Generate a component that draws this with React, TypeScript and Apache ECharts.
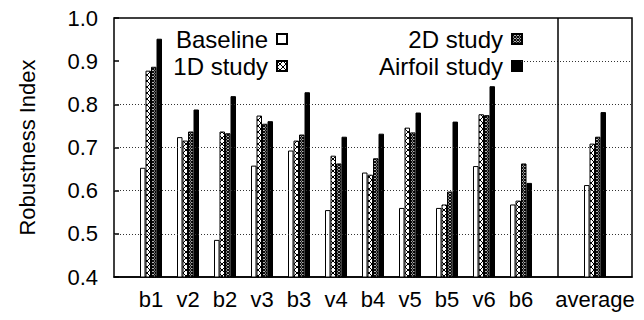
import React, { useEffect, useRef } from "react";
import * as echarts from "echarts";

const categories = ["", "b1", "v2", "b2", "v3", "b3", "v4", "b4", "v5", "b5", "v6", "b6", "", "average", ""];
const baseline = [null, 0.653, 0.724, 0.486, 0.658, 0.693, 0.555, 0.642, 0.56, 0.56, 0.657, 0.568, null, 0.613, null];
const study1D = [null, 0.878, 0.716, 0.737, 0.774, 0.716, 0.681, 0.637, 0.746, 0.568, 0.777, 0.577, null, 0.709, null];
const study2D = [null, 0.887, 0.737, 0.733, 0.755, 0.73, 0.663, 0.675, 0.735, 0.598, 0.775, 0.663, null, 0.725, null];
const airfoil = [null, 0.952, 0.788, 0.819, 0.761, 0.828, 0.725, 0.732, 0.781, 0.76, 0.842, 0.618, null, 0.782, null];
const gridValues = [0.5, 0.6, 0.7, 0.8];
const partialGridValue = 0.9;
const seriesNames = ["Baseline", "1D study", "2D study", "Airfoil study"];

const FONT = "Liberation Sans, Arial, Helvetica, sans-serif";

function makePattern(size: number, lw: number) {
  const c = document.createElement("canvas");
  c.width = size;
  c.height = size;
  const ctx = c.getContext("2d")!;
  ctx.fillStyle = "#fff";
  ctx.fillRect(0, 0, size, size);
  ctx.strokeStyle = "#000";
  ctx.lineWidth = lw;
  ctx.beginPath();
  ctx.moveTo(0, 0);
  ctx.lineTo(size, size);
  ctx.moveTo(size, 0);
  ctx.lineTo(0, size);
  ctx.stroke();
  return c;
}

export default function App() {
  const ref = useRef<HTMLDivElement>(null);
  useEffect(() => {
    if (!ref.current) return;
    const chart = echarts.init(ref.current, null, { renderer: "svg" });
    const p1 = makePattern(6, 1);
    const p2 = makePattern(3, 1.1);
    const barBase = {
      type: "bar" as const,
      barWidth: 5.5,
      barGap: "0%",
      z: 3,
      itemStyle: { borderColor: "#000", borderWidth: 1 },
    };
    const dotted = { color: "#333", type: [1, 2], width: 1 };
    const legendCommon = {
      orient: "vertical",
      align: "right",
      icon: "rect",
      top: 27,
      padding: 0,
      itemGap: 3,
      itemWidth: 10,
      itemHeight: 10,
      selectedMode: false,
      textStyle: { fontSize: 24, fontFamily: FONT, color: "#000", padding: [0, 4, 0, 0] },
    };
    chart.setOption({
      animation: false,
      textStyle: { fontFamily: FONT, color: "#000" },
      grid: {
        left: 114,
        right: 12,
        top: 18,
        bottom: 43,
        show: true,
        borderColor: "#000",
        borderWidth: 1.5,
      },
      legend: [
        { ...legendCommon, data: seriesNames.slice(0, 2), right: 356 },
        { ...legendCommon, data: seriesNames.slice(2, 4), right: 121 },
      ],
      xAxis: {
        type: "category",
        data: categories,
        boundaryGap: false,
        axisLine: { lineStyle: { color: "#000", width: 1.5 } },
        axisTick: { show: false },
        axisLabel: { fontSize: 22, color: "#000", margin: 11, interval: 0, fontFamily: FONT },
        splitLine: { show: false },
      },
      yAxis: {
        type: "value",
        min: 0.4,
        max: 1.0,
        interval: 0.1,
        name: "Robustness Index",
        nameLocation: "middle",
        nameGap: 76,
        nameTextStyle: { fontSize: 22, color: "#000", fontFamily: FONT },
        axisLine: { lineStyle: { color: "#000", width: 1.5 } },
        axisTick: { show: true, inside: true, length: 5, lineStyle: { color: "#000", width: 1.5 } },
        axisLabel: {
          fontSize: 22,
          color: "#000",
          margin: 16,
          fontFamily: FONT,
          formatter: (v: number) => v.toFixed(1),
        },
        splitLine: { show: false },
      },
      series: [
        {
          type: "line",
          data: [],
          z: 1,
          silent: true,
          markLine: {
            silent: true,
            symbol: "none",
            label: { show: false },
            lineStyle: dotted,
            data: [
              ...gridValues.map((v) => ({ yAxis: v, lineStyle: dotted })),
              [
                { coord: [11, partialGridValue], lineStyle: dotted },
                { coord: [14, partialGridValue] },
              ],
            ],
          },
        },
        {
          type: "line",
          data: [],
          z: 5,
          silent: true,
          markLine: {
            silent: true,
            symbol: "none",
            label: { show: false },
            lineStyle: { color: "#000", type: "solid", width: 1.5 },
            data: [{ xAxis: 12 }],
          },
        },
        { ...barBase, name: seriesNames[0], data: baseline, itemStyle: { ...barBase.itemStyle, color: "#fff" } },
        {
          ...barBase,
          name: seriesNames[1],
          data: study1D,
          itemStyle: { ...barBase.itemStyle, color: { image: p1, repeat: "repeat" } },
        },
        {
          ...barBase,
          name: seriesNames[2],
          data: study2D,
          itemStyle: { ...barBase.itemStyle, color: { image: p2, repeat: "repeat" } },
        },
        { ...barBase, name: seriesNames[3], data: airfoil, itemStyle: { ...barBase.itemStyle, color: "#000" } },
      ],
    });
    return () => chart.dispose();
  }, []);
  return <div ref={ref} style={{ width: 644, height: 320, position: "absolute", left: 0, top: 0 }} />;
}
